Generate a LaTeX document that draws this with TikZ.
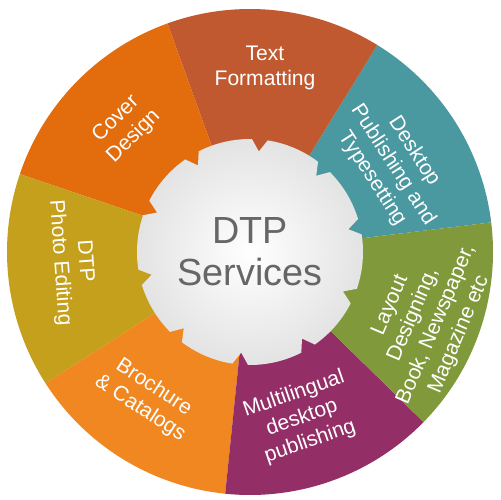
\documentclass[tikz,border=0pt]{standalone}
\usepackage{fontspec}
\setmainfont{Liberation Sans}
\usetikzlibrary{positioning}
\definecolor{dtpteal}{RGB}{74,152,160}
\definecolor{dtprust}{RGB}{193,89,48}
\definecolor{dtpcover}{RGB}{227,108,12}
\definecolor{dtpgold}{RGB}{196,160,28}
\definecolor{dtporange}{RGB}{240,135,32}
\definecolor{dtppurple}{RGB}{147,46,102}
\definecolor{dtpolive}{RGB}{128,153,58}
\definecolor{hubgray}{RGB}{102,102,102}
\tikzstyle{slicelabel}=[text=white,align=center,inner sep=0pt,font=\fontsize{12}{14.2}\selectfont]
\tikzstyle{hublabel}=[text=hubgray,align=center,inner sep=0pt,font=\fontsize{21.5}{24}\selectfont]
\tikzstyle{gear}=[inner color=white,outer color=gray!22]

\begin{document}
\begin{tikzpicture}[x=0.02cm,y=0.02cm]
    \fill[white] (-250,-248) rectangle (250,252);
    \useasboundingbox (-250,-248) rectangle (250,252);
    % First the seven slices of the wheel
    \foreach \col [count=\i from 0] in {dtpteal,dtprust,dtpcover,dtpgold,dtporange,dtppurple,dtpolive}
        \fill[\col] (0,0) -- ({7+\i*360/7}:243) arc ({7+\i*360/7}:{7+(\i+1)*360/7}:243) -- cycle;

    % Then the cog in the middle
    \shade[gear] (89:113) \foreach \n in {0,...,9} { arc ({89+36*\n}:{117+36*\n}:113) -- ({121+36*\n}:101) -- ({125+36*\n}:113) } -- cycle;
    \node[hublabel] (hub) at (0,0) {DTP\\Services};

    % Labels of the slices
    \foreach \pos/\name/\rot/\label in {{(15,184)/textfmt/0/{Text\\Formatting}},
            {(-125,124)/cover/45/{Cover\\Design}},
            {(143,87)/desktop/-57/{Desktop\\Publishing and\\Typesetting}},
            {(175,-68)/layout/67/{Layout\\Designing,\\Book, Newspaper,\\Magazine etc}},
            {(52,-166)/multi/19/{Multilingual\\desktop\\publishing}},
            {(-103,-146)/brochure/-33/{Brochure\\\& Catalogs}},
            {(-178,-10)/photo/-86/{DTP\\Photo Editing}}}
        \node[slicelabel,rotate=\rot] (\name) at \pos {\label};
\end{tikzpicture}
\end{document}
